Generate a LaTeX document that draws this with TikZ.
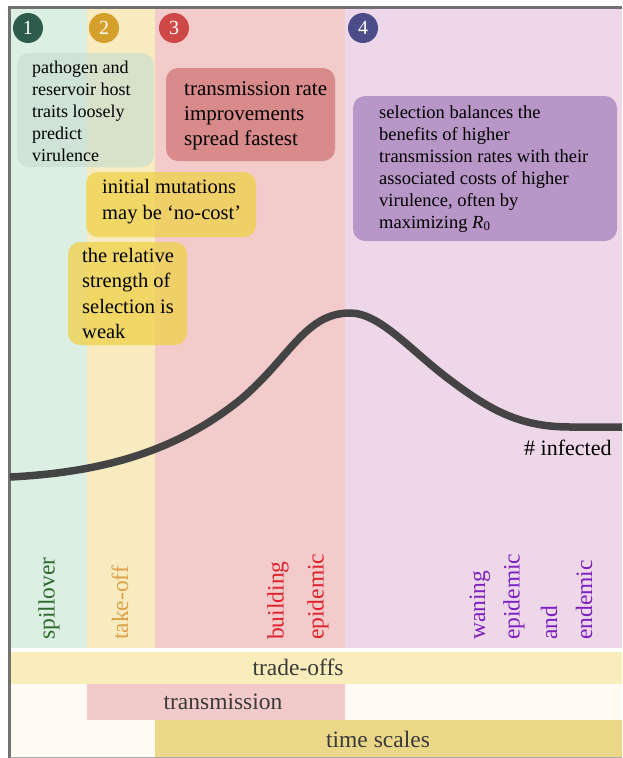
\documentclass[tikz,border=0pt]{standalone}
\usepackage{fontspec}
\setmainfont{Liberation Serif}
\usetikzlibrary{positioning}

\definecolor{bandgreen}{HTML}{DCEFE3}
\definecolor{bandyellow}{HTML}{F8EBBF}
\definecolor{bandred}{HTML}{F3CBCB}
\definecolor{bandpurple}{HTML}{EFD7EA}
\definecolor{cream}{HTML}{FFFBF3}
\definecolor{baryellow}{HTML}{F8EDBB}
\definecolor{barred}{HTML}{F2CACA}
\definecolor{bargold}{HTML}{EAD788}
\definecolor{framegray}{HTML}{727272}
\definecolor{curvegray}{HTML}{444444}
\definecolor{bartext}{HTML}{3A3A3A}
\definecolor{notegreen}{HTML}{C9DFD0}
\definecolor{noteyellow}{HTML}{EFD250}
\definecolor{notered}{HTML}{D98A8A}
\definecolor{notepurple}{HTML}{B897C8}
\definecolor{stepone}{HTML}{2E5B4B}
\definecolor{steptwo}{HTML}{D49F2B}
\definecolor{stepthree}{HTML}{CF4848}
\definecolor{stepfour}{HTML}{4D4C8A}
\definecolor{labgreen}{HTML}{2D6A2D}
\definecolor{laborange}{HTML}{DDA24A}
\definecolor{labred}{HTML}{E0202A}
\definecolor{labpurple}{HTML}{7B1FC0}

\tikzset{
  notetext/.style={anchor=base west, align=left, inner sep=0pt},
  phaselabel/.style={rotate=90, anchor=west, inner sep=0pt, font=\fontsize{23.5}{26}\selectfont},
  stepnum/.style={circle, minimum size=30pt, inner sep=0pt, text=white, font=\fontsize{20}{20}\selectfont},
  barlabel/.style={text=bartext, font=\fontsize{23.5}{26}\selectfont}
}

\begin{document}
\begin{tikzpicture}[x=1pt, y=-1pt]
\useasboundingbox (0,0) rectangle (622,758);

%bands
\fill[bandgreen] (10,9) rectangle (87,648);
\fill[bandyellow] (87,9) rectangle (155,648);
\fill[bandred] (155,9) rectangle (345,648);
\fill[bandpurple] (345,9) rectangle (622,648);

%bottom bars
\fill[cream] (10,652) rectangle (622,757);
\fill[baryellow] (10,652) rectangle (622,684);
\fill[barred] (87,684) rectangle (345,720);
\fill[bargold] (155,720) rectangle (622,757);

\node[barlabel] (tradeoffs) at (298,667) {trade-offs};
\node[barlabel] (transmission) at (223,702) {transmission};
\node[barlabel] (timescales) at (378,739) {time scales};

%frame
\draw[framegray, line width=2.5pt] (622,7.5) -- (9.5,7.5) -- (9.5,758);
\draw[framegray!60, line width=1pt] (9.5,757.5) -- (622,757.5);

%numbers
\node[stepnum, fill=stepone] (step1) at (28,28) {1};
\node[stepnum, fill=steptwo] (step2) at (104,28) {2};
\node[stepnum, fill=stepthree] (step3) at (174,28) {3};
\node[stepnum, fill=stepfour] (step4) at (363,28) {4};

%notes (base = last line)
\fill[notegreen, opacity=0.68, rounded corners=12pt] (17,53) rectangle (154,167);
\node[notetext, font=\fontsize{18}{22}\selectfont] (spillnote) at (32,161)
{pathogen and\\reservoir host\\traits loosely\\predict\\virulence};

\fill[notered, rounded corners=12pt] (166,68) rectangle (335,161);
\node[notetext, font=\fontsize{21}{25}\selectfont] (ratenote) at (184,145)
{transmission rate\\improvements\\spread fastest};

\fill[noteyellow, opacity=0.8, rounded corners=12pt] (86,172) rectangle (256,237);
\node[notetext, font=\fontsize{20.5}{26.5}\selectfont] (costnote) at (102,219.5)
{initial mutations\\may be ‘no-cost’};

\fill[noteyellow, opacity=0.8, rounded corners=12pt] (68,242) rectangle (187,345);
\node[notetext, font=\fontsize{20.5}{25.5}\selectfont] (weaknote) at (82,338.5)
{the relative\\strength of\\selection is\\weak};

\fill[notepurple, rounded corners=12pt] (353,96) rectangle (617,241);
\node[notetext, font=\fontsize{18.5}{22}\selectfont] (balancenote) at (379,228)
{selection balances the\\benefits of higher\\transmission rates with their\\associated costs of higher\\virulence, often by\\maximizing \textit{R}\textsubscript{0}};

%curve
\draw[curvegray, line width=7.5pt] (10,477) .. controls (110,472) and (180,448) .. (240,400)
  .. controls (290,358) and (305,313) .. (350,313)
  .. controls (380,313) and (410,350) .. (450,380)
  .. controls (490,410) and (520,427) .. (570,427) -- (622,427);
\node[notetext, font=\fontsize{22}{24}\selectfont] (infected) at (524,455) {\# infected};

%phase labels
\node[phaselabel, text=labgreen] (spillover) at (49,640) {spillover};
\node[phaselabel, text=laborange] (takeoff) at (120,640) {take-off};
\node[phaselabel, text=labred] (building) at (278,640) {building};
\node[phaselabel, text=labred] (buildepi) at (318,640) {epidemic};
\node[phaselabel, text=labpurple] (waning) at (480,640) {waning};
\node[phaselabel, text=labpurple] (waneepi) at (514,640) {epidemic};
\node[phaselabel, text=labpurple] (and) at (549,640) {and};
\node[phaselabel, text=labpurple] (endemic) at (584,640) {endemic};

\end{tikzpicture}
\end{document}
